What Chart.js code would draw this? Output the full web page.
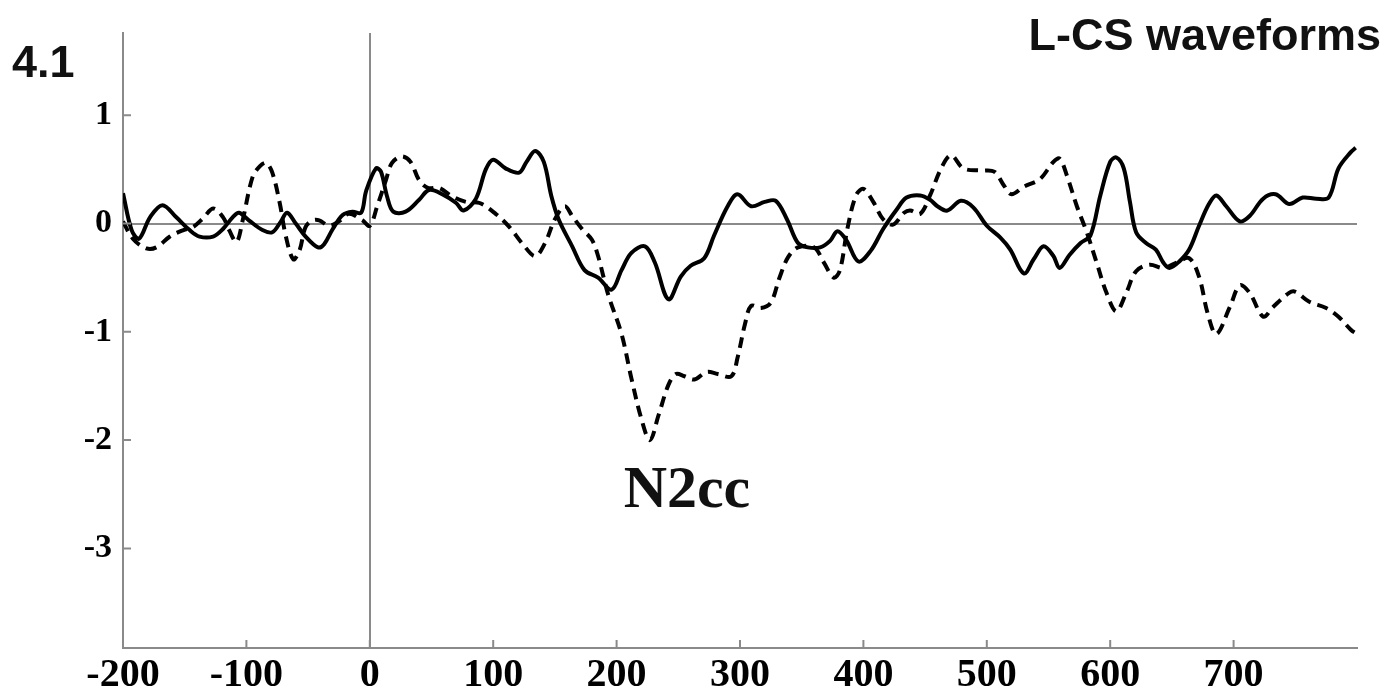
<!DOCTYPE html>
<html>
<head>
<meta charset="utf-8">
<title>L-CS waveforms</title>
<script src="https://cdn.jsdelivr.net/npm/chart.js@4/dist/chart.umd.min.js"></script>
<style>
    html, body { margin: 0; padding: 0; background: #fff; }
    #wrap { position: relative; width: 1400px; height: 696px; }
</style>
</head>
<body>
<div id="wrap"><canvas id="waveChart" width="1400" height="696"></canvas></div>
<script>
// time axis (ms) and amplitude for the solid waveform
const solidTimes = [-200, -193, -187, -178, -168, -157, -146, -138, -127, -119, -111, -106, -98, -87, -79, -72, -67, -60, -52, -42, -37, -30, -22, -14, -7, -3, 5, 9, 14, 19, 29, 40, 48, 59, 70, 76, 86, 94, 100, 110, 121, 127, 134, 141, 147, 153, 164, 174, 185, 196, 204, 212, 223, 231, 242, 252, 260, 271, 279, 290, 298, 309, 320, 329, 338, 347, 355, 365, 373, 379, 386, 396, 406, 416, 427, 435, 446, 454, 460, 468, 479, 489, 500, 511, 519, 530, 538, 546, 554, 559, 567, 576, 584, 592, 600, 605, 611, 616, 621, 629, 637, 643, 648, 656, 664, 672, 680, 686, 694, 705, 713, 724, 734, 745, 756, 767, 777, 785, 795, 799];
const solidValues = [0.28, -0.06, -0.14, 0.06, 0.17, 0.06, -0.06, -0.12, -0.12, -0.05, 0.06, 0.1, 0.03, -0.06, -0.08, 0.02, 0.1, 0.0, -0.12, -0.22, -0.19, -0.05, 0.08, 0.11, 0.1, 0.3, 0.51, 0.48, 0.25, 0.11, 0.11, 0.22, 0.31, 0.27, 0.19, 0.12, 0.23, 0.5, 0.59, 0.51, 0.47, 0.57, 0.67, 0.57, 0.26, 0.04, -0.21, -0.43, -0.5, -0.61, -0.43, -0.27, -0.21, -0.36, -0.7, -0.49, -0.39, -0.32, -0.11, 0.16, 0.27, 0.16, 0.2, 0.21, 0.04, -0.18, -0.22, -0.22, -0.16, -0.07, -0.15, -0.35, -0.25, -0.05, 0.13, 0.24, 0.26, 0.22, 0.16, 0.12, 0.21, 0.15, -0.02, -0.13, -0.24, -0.46, -0.33, -0.21, -0.3, -0.41, -0.29, -0.18, -0.11, 0.26, 0.57, 0.61, 0.51, 0.2, -0.08, -0.18, -0.24, -0.36, -0.41, -0.35, -0.24, -0.02, 0.18, 0.26, 0.16, 0.02, 0.07, 0.23, 0.27, 0.18, 0.24, 0.23, 0.24, 0.51, 0.66, 0.7];

// time axis (ms) and amplitude for the dashed waveform
const dashedTimes = [-200, -192, -181, -173, -162, -151, -143, -135, -127, -119, -114, -108, -103, -95, -89, -84, -79, -73, -68, -62, -57, -52, -46, -41, -33, -25, -17, -6, 0, 6, 13, 18, 26, 33, 40, 47, 56, 67, 78, 89, 102, 113, 124, 134, 142, 150, 158, 164, 172, 180, 185, 193, 204, 212, 220, 227, 234, 242, 248, 255, 263, 273, 282, 293, 298, 304, 309, 317, 325, 332, 339, 347, 360, 368, 376, 381, 387, 394, 400, 408, 416, 424, 433, 438, 446, 454, 463, 471, 481, 495, 506, 514, 520, 530, 543, 554, 559, 565, 573, 581, 589, 597, 605, 613, 621, 632, 643, 654, 664, 672, 679, 686, 697, 705, 713, 724, 732, 745, 750, 761, 775, 785, 795, 800];
const dashedValues = [0.02, -0.14, -0.23, -0.22, -0.12, -0.06, -0.03, 0.05, 0.14, 0.06, -0.06, -0.17, 0.03, 0.43, 0.53, 0.56, 0.47, 0.19, -0.12, -0.33, -0.25, -0.03, 0.03, 0.03, -0.02, 0.02, 0.09, 0.03, -0.02, 0.16, 0.4, 0.56, 0.62, 0.57, 0.4, 0.33, 0.33, 0.25, 0.2, 0.19, 0.09, -0.03, -0.19, -0.3, -0.18, 0.04, 0.16, 0.07, -0.05, -0.15, -0.3, -0.65, -1.02, -1.43, -1.8, -2.0, -1.77, -1.49, -1.39, -1.41, -1.44, -1.37, -1.39, -1.41, -1.24, -0.93, -0.76, -0.78, -0.73, -0.5, -0.31, -0.22, -0.22, -0.36, -0.5, -0.43, -0.05, 0.26, 0.32, 0.2, 0.04, -0.01, 0.1, 0.12, 0.09, 0.26, 0.51, 0.63, 0.51, 0.49, 0.48, 0.35, 0.27, 0.34, 0.41, 0.57, 0.6, 0.44, 0.16, -0.08, -0.36, -0.64, -0.81, -0.64, -0.44, -0.38, -0.41, -0.36, -0.32, -0.49, -0.83, -1.02, -0.77, -0.57, -0.64, -0.86, -0.77, -0.64, -0.63, -0.72, -0.78, -0.86, -0.98, -1.02];

// tick labels
const xTickValues = [-200, -100, 0, 100, 200, 300, 400, 500, 600, 700];
const yTickValues = [-3, -2, -1, 0, 1];

const axisGray = '#8a8a8a';

function toPoints(times, values) {
    return times.map((t, i) => ({ x: t, y: values[i] }));
}

// small inward tick marks + text labels
const decorPlugin = {
    id: 'decor',
    afterDraw(chart) {
        const ctx = chart.ctx;
        const area = chart.chartArea;
        const xs = chart.scales.x;
        const ys = chart.scales.y;
        ctx.save();
        ctx.strokeStyle = axisGray;
        ctx.lineWidth = 2;
        ctx.beginPath();
        xTickValues.forEach(v => {
            const px = xs.getPixelForValue(v);
            ctx.moveTo(px, area.bottom);
            ctx.lineTo(px, area.bottom - 8);
        });
        yTickValues.forEach(v => {
            const py = ys.getPixelForValue(v);
            ctx.moveTo(area.left, py);
            ctx.lineTo(area.left + 8, py);
        });
        ctx.stroke();

        ctx.fillStyle = '#111';
        ctx.textBaseline = 'alphabetic';
        ctx.font = 'bold 45px "Liberation Sans", Arial, sans-serif';
        ctx.textAlign = 'left';
        ctx.fillText('4.1', 12, 77);
        ctx.textAlign = 'right';
        ctx.fillText('L-CS waveforms', 1381, 50);

        // peak label under the dashed trough
        ctx.font = 'bold 60px "Liberation Serif", "Times New Roman", serif';
        ctx.textAlign = 'center';
        ctx.fillText('N2cc', xs.getPixelForValue(257), ys.getPixelForValue(-2.62));
        ctx.restore();
    }
};

const ctx = document.getElementById('waveChart').getContext('2d');
new Chart(ctx, {
    type: 'line',
    data: {
        datasets: [{
            label: 'solid',
            data: toPoints(solidTimes, solidValues),
            borderColor: '#000',
            borderWidth: 4,
            pointRadius: 0,
            tension: 0.35,
            fill: false
        }, {
            label: 'dashed',
            data: toPoints(dashedTimes, dashedValues),
            borderColor: '#000',
            borderWidth: 4,
            borderDash: [11, 7],
            pointRadius: 0,
            tension: 0.35,
            fill: false
        }]
    },
    options: {
        responsive: false,
        animation: false,
        devicePixelRatio: 1,
        layout: { padding: { top: 33, right: 43, left: 0, bottom: 0 } },
        plugins: {
            legend: { display: false },
            tooltip: { enabled: false }
        },
        scales: {
            x: {
                type: 'linear',
                min: -200,
                max: 800,
                afterBuildTicks: scale => {
                    scale.ticks = xTickValues.map(v => ({ value: v }));
                },
                afterFit: scale => { scale.height = 48; },
                ticks: {
                    color: '#000',
                    padding: 4,
                    maxRotation: 0,
                    autoSkip: false,
                    font: { family: '"Liberation Serif", "Times New Roman", serif', size: 40, weight: 'bold' }
                },
                grid: {
                    drawTicks: false,
                    lineWidth: 2,
                    color: c => (c.tick && c.tick.value === 0) ? axisGray : 'rgba(0,0,0,0)'
                },
                border: { color: axisGray, width: 2 }
            },
            y: {
                min: -3.92,
                max: 1.76,
                afterBuildTicks: scale => {
                    scale.ticks = yTickValues.map(v => ({ value: v }));
                },
                afterFit: scale => { scale.width = 123; },
                ticks: {
                    color: '#000',
                    padding: 11,
                    font: { family: '"Liberation Serif", "Times New Roman", serif', size: 34, weight: 'bold' }
                },
                grid: {
                    drawTicks: false,
                    lineWidth: 2,
                    color: c => (c.tick && c.tick.value === 0) ? axisGray : 'rgba(0,0,0,0)'
                },
                border: { color: axisGray, width: 2 }
            }
        }
    },
    plugins: [decorPlugin]
});
</script>
</body>
</html>
